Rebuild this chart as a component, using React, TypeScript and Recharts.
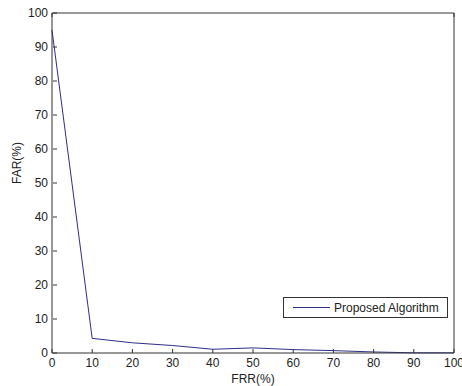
import { LineChart, Line, XAxis, YAxis, Legend, Label } from "recharts"

const frr = [0, 10, 20, 30, 40, 50, 60, 70, 80, 90, 100]
const far = [95, 4.3, 3.0, 2.2, 1.1, 1.5, 1.0, 0.7, 0.3, 0.05, 0.05]
const axisTicks = [0, 10, 20, 30, 40, 50, 60, 70, 80, 90, 100]
const seriesName = "Proposed Algorithm"

const data = frr.map((x, i) => ({ frr: x, far: far[i] }))

const FONT = "Arial, 'Liberation Sans', sans-serif"
const AXIS = "#333"
const TICK_LEN = 4
const MARGIN = 5

function BottomTick({ x, y, payload }: any) {
  const axisY = y - MARGIN
  return (
    <g>
      <line x1={x} x2={x} y1={axisY} y2={axisY - TICK_LEN} stroke={AXIS} />
      <text x={x} y={y} dy="0.71em" textAnchor="middle" fontSize={12} fontFamily={FONT} fill="#222">
        {payload.value}
      </text>
    </g>
  )
}

function LeftTick({ x, y, payload }: any) {
  const axisX = x + MARGIN
  return (
    <g>
      <line x1={axisX} x2={axisX + TICK_LEN} y1={y} y2={y} stroke={AXIS} />
      <text x={x} y={y} dy="0.35em" textAnchor="end" fontSize={12} fontFamily={FONT} fill="#222">
        {payload.value}
      </text>
    </g>
  )
}

function TopTick({ x, y }: any) {
  return <line x1={x} x2={x} y1={y} y2={y + TICK_LEN} stroke={AXIS} />
}

function RightTick({ x, y }: any) {
  return <line x1={x} x2={x - TICK_LEN} y1={y} y2={y} stroke={AXIS} />
}

function LegendBox({ payload }: any) {
  const item = payload && payload[0]
  return (
    <div
      style={{
        width: 163,
        height: 19,
        border: "1px solid #333",
        background: "#fff",
        display: "flex",
        alignItems: "center",
        boxSizing: "content-box",
        fontFamily: FONT,
        fontSize: 12,
        color: "#222",
      }}
    >
      <span style={{ display: "inline-block", marginLeft: 9, width: 37, height: 1, background: item ? item.color : "#2e2e8a" }} />
      <span style={{ marginLeft: 4 }}>{item ? item.value : seriesName}</span>
    </div>
  )
}

export default function App() {
  return (
    <div style={{ position: "absolute", left: 0, top: 0, background: "#fff" }}>
      <LineChart width={462} height={386} data={data} margin={{ top: 0, right: 0, bottom: 0, left: 0 }}>
        <XAxis
          xAxisId="bottom"
          dataKey="frr"
          type="number"
          domain={[0, 100]}
          ticks={axisTicks}
          height={33}
          tickSize={0}
          tickMargin={MARGIN}
          tick={<BottomTick />}
          axisLine={{ stroke: AXIS }}
          interval={0}
        >
          <Label
            content={({ viewBox }: any) => (
              <text
                x={viewBox.x + viewBox.width / 2}
                y={viewBox.y + viewBox.height - 3}
                textAnchor="middle"
                fontSize={12}
                fontFamily={FONT}
                fill="#222"
              >
                FRR(%)
              </text>
            )}
          />
        </XAxis>
        <XAxis
          xAxisId="top"
          orientation="top"
          type="number"
          domain={[0, 100]}
          ticks={axisTicks}
          height={13}
          tickSize={0}
          tickMargin={0}
          tick={<TopTick />}
          axisLine={{ stroke: AXIS }}
          interval={0}
        />
        <YAxis
          yAxisId="left"
          type="number"
          domain={[0, 100]}
          ticks={axisTicks}
          width={52}
          tickSize={0}
          tickMargin={MARGIN - 1}
          tick={<LeftTick />}
          axisLine={{ stroke: AXIS }}
          interval={0}
        >
          <Label
            content={({ viewBox }: any) => {
              const cx = viewBox.x + 17
              const cy = viewBox.y + viewBox.height / 2 - 20
              return (
                <text
                  x={cx}
                  y={cy}
                  transform={`rotate(-90 ${cx} ${cy})`}
                  textAnchor="middle"
                  dy="0.35em"
                  fontSize={12}
                  fontFamily={FONT}
                  fill="#222"
                >
                  FAR(%)
                </text>
              )
            }}
          />
        </YAxis>
        <YAxis
          yAxisId="right"
          orientation="right"
          type="number"
          domain={[0, 100]}
          ticks={axisTicks}
          width={8}
          tickSize={0}
          tickMargin={0}
          tick={<RightTick />}
          axisLine={{ stroke: AXIS }}
          interval={0}
        />
        <Line
          xAxisId="bottom"
          yAxisId="left"
          type="linear"
          dataKey="far"
          name={seriesName}
          stroke="#2e2e8a"
          strokeWidth={1}
          dot={false}
          isAnimationActive={false}
        />
        <Legend
          layout="horizontal"
          verticalAlign="middle"
          align="center"
          content={<LegendBox />}
          wrapperStyle={{ position: "absolute", left: 283, top: 297, width: "auto" }}
        />
      </LineChart>
    </div>
  )
}
